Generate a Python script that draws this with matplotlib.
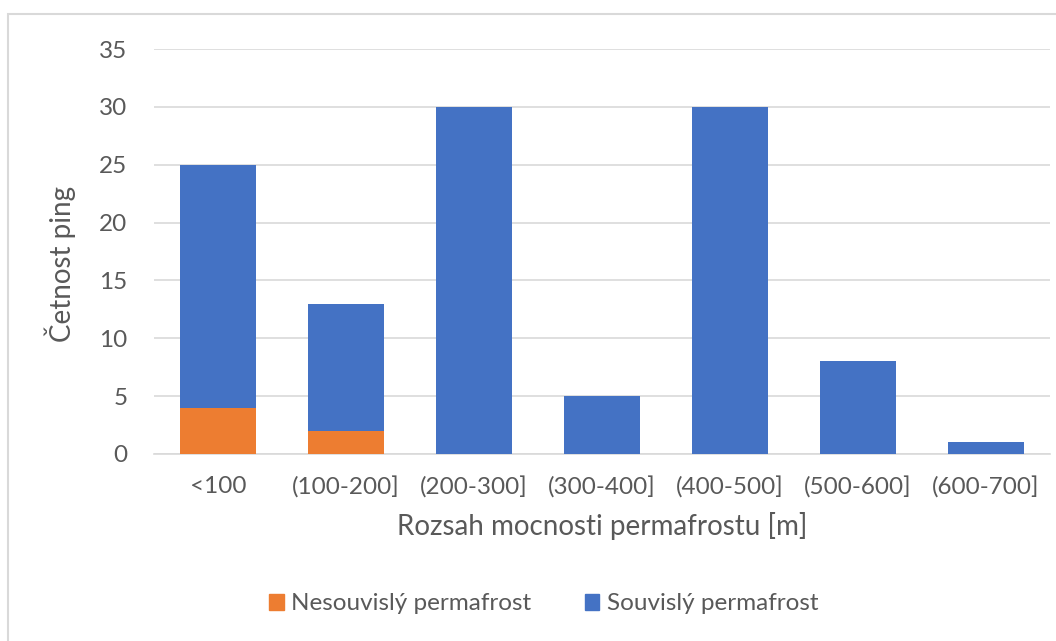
import matplotlib.pyplot as plt
import matplotlib.patches as mpatches
import numpy as np

# thickness classes and counts per permafrost type
categories = ['<100', '(100-200]', '(200-300]', '(300-400]', '(400-500]', '(500-600]', '(600-700]']
nesouvisly = [4, 2, 0, 0, 0, 0, 0]
souvisly = [21, 11, 30, 5, 30, 8, 1]

orange = '#ED7D31'
blue = '#4472C4'
grey_text = '#595959'

plt.rcParams['font.family'] = ['Lato', 'DejaVu Sans']

fig = plt.figure(figsize=(10.56, 6.41), dpi=100)
ax = fig.add_axes([154/1056, 1 - 454/641, 896/1056, 405/641])

x = np.arange(len(categories))
ax.bar(x, nesouvisly, width=0.6, color=orange, label='Nesouvislý permafrost', zorder=3)
ax.bar(x, souvisly, width=0.6, bottom=nesouvisly, color=blue, label='Souvislý permafrost', zorder=3)

ax.set_xlim(-0.5, len(categories) - 0.5)
ax.set_ylim(0, 35)
ax.set_yticks(range(0, 36, 5))
ax.set_xticks(x)
ax.set_xticklabels(categories)
ax.grid(axis='y', color='#D9D9D9', linewidth=1.2, zorder=0)
for s in ['top', 'right', 'left']:
    ax.spines[s].set_visible(False)
ax.spines['bottom'].set_color('#D9D9D9')
ax.spines['bottom'].set_linewidth(1.2)
ax.tick_params(length=0, labelsize=17.5, colors=grey_text, pad=16)
ax.tick_params(axis='y', pad=19)

ax.set_xlabel('Rozsah mocnosti permafrostu [m]', fontsize=20, color=grey_text, labelpad=10)
ax.set_ylabel('Četnost ping', fontsize=20, color=grey_text)
ax.yaxis.set_label_coords(-0.087, 0.47)

handles = [mpatches.Patch(color=orange, label='Nesouvislý permafrost'),
           mpatches.Patch(color=blue, label='Souvislý permafrost')]
fig.legend(handles=handles, loc='center', bbox_to_anchor=(0.515, 1 - 604/641), ncol=2,
           frameon=False, fontsize=17.5, labelcolor=grey_text, handlelength=0.6,
           handleheight=0.6, handletextpad=0.3, columnspacing=2.2)

# outer chart frame
frame = mpatches.Rectangle((8/1056, -0.1), 1.2, 1 - 14/641 + 0.1, transform=fig.transFigure,
                           fill=False, edgecolor='#D9D9D9', linewidth=1.5)
fig.patches.append(frame)

fig.savefig('out.png', dpi=100, facecolor='white')
